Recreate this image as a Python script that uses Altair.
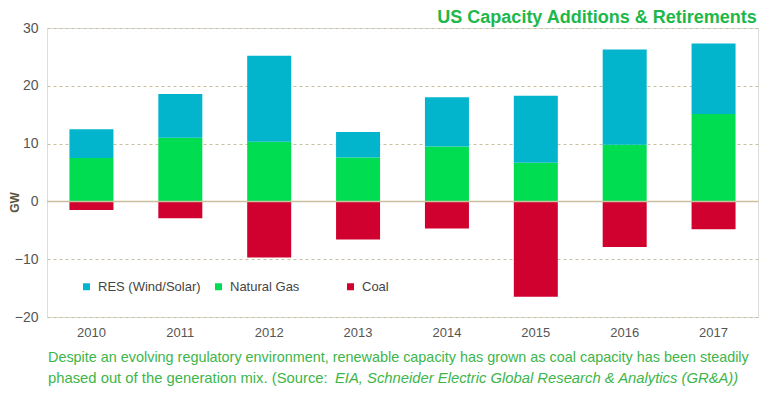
import altair as alt
import pandas as pd

years = ["2010", "2011", "2012", "2013", "2014", "2015", "2016", "2017"]
res = [5.0, 7.6, 14.9, 4.4, 8.5, 11.6, 16.5, 12.2]
gas = [7.5, 11.0, 10.3, 7.6, 9.5, 6.7, 9.8, 15.1]
coal = [-1.5, -2.9, -9.7, -6.6, -4.7, -16.5, -7.9, -4.8]

series = ["RES (Wind/Solar)", "Natural Gas", "Coal"]
colors = ["#02b4cc", "#00dd50", "#d0002f"]
caption1 = "Despite an evolving regulatory environment, renewable capacity has grown as coal capacity has been steadily"
caption2a = "phased out of the generation mix. (Source: "
caption2b = "EIA, Schneider Electric Global Research & Analytics (GR&A))"

rows = []
for i, y in enumerate(years):
    rows.append({"year": y, "type": series[1], "value": gas[i], "ord": 0})
    rows.append({"year": y, "type": series[0], "value": res[i], "ord": 1})
    rows.append({"year": y, "type": series[2], "value": coal[i], "ord": 2})
df = pd.DataFrame(rows)

W, H = 711, 289
khaki = "#c9c09e"

bars = alt.Chart(df).mark_bar(size=44).encode(
    x=alt.X("year:N", scale=alt.Scale(paddingInner=0.5, paddingOuter=0.25),
            axis=alt.Axis(title=None, labelAngle=0, ticks=False, domain=False,
                          labelPadding=9, labelFontSize=13, labelColor="#555555",
                          labelFont="Liberation Sans")),
    y=alt.Y("value:Q", stack="zero",
            scale=alt.Scale(domain=[-20, 30], nice=False),
            axis=alt.Axis(values=[-20, -10, 0, 10, 20, 30], title="GW", ticks=False,
                          domain=False, grid=True, gridColor=khaki, gridDash=[3, 3],
                          gridWidth=1, labelPadding=9, labelFontSize=14,
                          labelColor="#555555", labelFont="Liberation Sans",
                          titleFont="Liberation Sans", titleFontSize=12,
                          titleFontWeight="bold", titleColor="#5b5640",
                          titleX=-26, titleY=174, titleAngle=-90)),
    color=alt.Color("type:N", scale=alt.Scale(domain=series, range=colors),
                    legend=alt.Legend(title=None, orient="none", direction="horizontal",
                                      legendX=33, legendY=252, symbolType="square",
                                      symbolSize=49, symbolStrokeWidth=0,
                                      labelFontSize=13, labelColor="#444444",
                                      labelFont="Liberation Sans", columnPadding=11,
                                      gridAlign="all", labelOffset=5)),
    order=alt.Order("ord:Q"),
)

zero = alt.Chart(pd.DataFrame({"z": [0]})).mark_rule(color=khaki, strokeWidth=1.5).encode(
    y=alt.Y("z:Q")
)

cap_style = dict(align="left", baseline="middle", font="Liberation Sans", color="#3db54a")
cap1 = alt.Chart(pd.DataFrame({"t": [caption1]})).mark_text(fontSize=14.4, **cap_style).encode(
    text="t:N", x=alt.value(1), y=alt.value(H + 41))
cap2 = alt.Chart(pd.DataFrame({"t": [caption2a]})).mark_text(fontSize=14.8, **cap_style).encode(
    text="t:N", x=alt.value(1), y=alt.value(H + 62))
cap3 = alt.Chart(pd.DataFrame({"t": [caption2b]})).mark_text(fontSize=14.8, fontStyle="italic", **cap_style).encode(
    text="t:N", x=alt.value(288), y=alt.value(H + 62))

chart = alt.layer(bars, zero, cap1, cap2, cap3).properties(
    width=W, height=H,
    autosize=alt.AutoSizeParams(type="none"),
    padding={"left": 39, "top": 20, "right": 1, "bottom": 69},
    title=alt.Title("US Capacity Additions & Retirements", anchor="end", fontSize=18,
                    font="Liberation Sans", fontWeight="bold", color="#1db84a",
                    offset=6, dx=-2, dy=12),
).configure_view(stroke=khaki, strokeWidth=1.5).configure(background="white")

chart.save("out.html", embed_options={"renderer": "svg", "actions": False})
